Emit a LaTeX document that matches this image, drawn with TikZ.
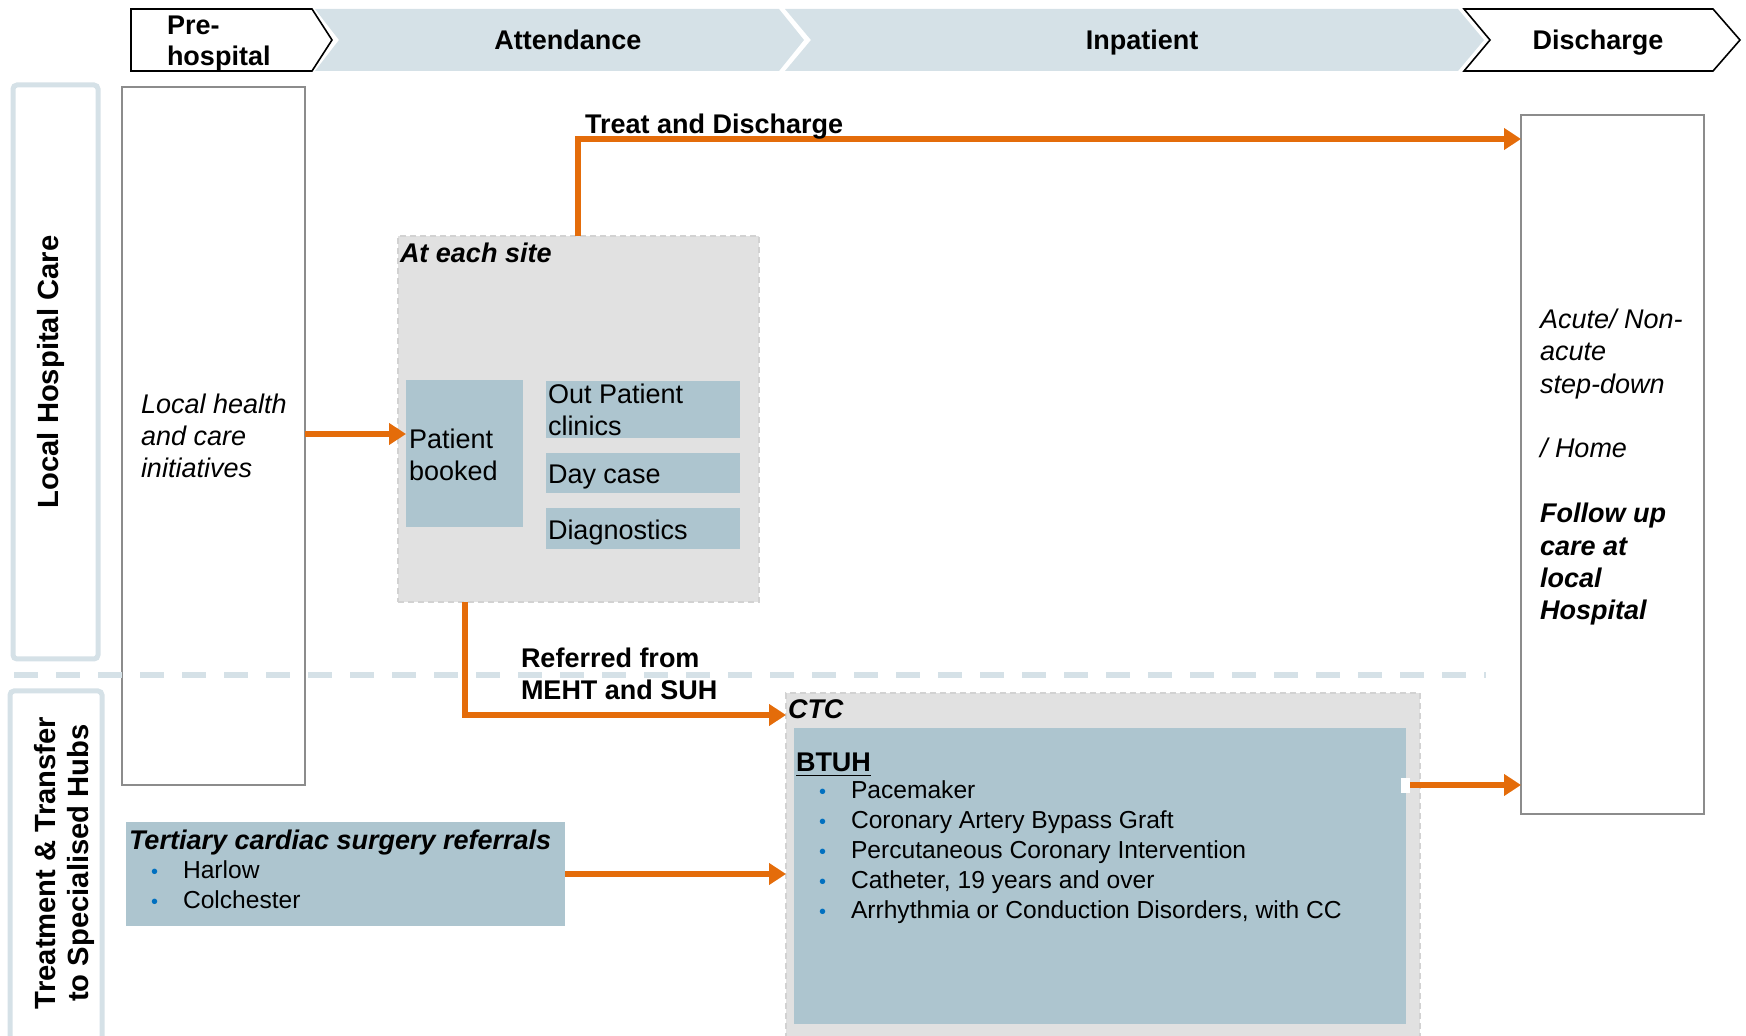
\documentclass[tikz,border=0pt]{standalone}
\usepackage{fontspec}
\setmainfont{Liberation Sans}
\usetikzlibrary{fit,arrows.meta,calc}

\definecolor{hdrfill}{HTML}{D5E1E7}
\definecolor{lanecol}{HTML}{D5E1E7}
\definecolor{boxfill}{HTML}{ADC5CF}
\definecolor{sitefill}{HTML}{E1E1E1}
\definecolor{sitedash}{HTML}{D2D2D2}
\definecolor{flow}{HTML}{E46C0A}
\definecolor{dotblue}{HTML}{0070C0}
\definecolor{colline}{HTML}{8C8C8C}

\newcommand\bodyfont{\fontsize{13.5}{16.2}\selectfont}
\newcommand\listfont{\fontsize{12.3}{15}\selectfont}
\newcommand\lanefont{\fontsize{14.6}{16.5}\selectfont\bfseries}
\newcommand\itemdot{\makebox[16pt][l]{\color{dotblue}\fontsize{10}{10}\selectfont\textbullet}}

% multi-line text nodes are anchored at the baseline of their last line
\tikzset{
  region/.style={fit={#1}, inner sep=0pt, outer sep=0pt},
  colbox/.style={draw=colline, line width=0.9pt, fill=white},
  lanebox/.style={draw=lanecol, line width=2.5pt, rounded corners=2pt},
  sitebox/.style={fill=sitefill, draw=sitedash, densely dashed, line width=0.8pt},
  tile/.style={fill=boxfill, draw=none},
  txt/.style={inner sep=0pt, outer sep=0pt, anchor=base west, font=\bodyfont, align=left},
  flowarrow/.style={draw=flow, line width=2.9pt, -{Triangle[length=8.5pt,width=10.5pt]}},
  hdrw/.style={draw=black, fill=white, line width=0.8pt},
  hdrb/.style={fill=hdrfill, draw=none},
  lanesep/.style={draw=lanecol, line width=3pt, dash pattern=on 12pt off 9pt},
}

\begin{document}
\begin{tikzpicture}[x=0.5pt,y=-0.5pt]
\useasboundingbox (0,0) rectangle (1746,1036);

% phase chevrons
\draw[hdrw] (131,9) -- (312,9) -- (332,40) -- (312,71) -- (131,71) -- cycle;
\fill[hdrb] (315,9) -- (779,9) -- (804,40) -- (779,71) -- (315,71) -- (339,40) -- cycle;
\fill[hdrb] (785,9) -- (1458,9) -- (1484,40) -- (1458,71) -- (785,71) -- (811,40) -- cycle;
\draw[hdrw] (1464,9) -- (1713,9) -- (1740,40) -- (1713,71) -- (1464,71) -- (1490,40) -- cycle;
\node[txt, font=\fontsize{13.5}{15.8}\selectfont\bfseries] (hPre) at (167,66) {Pre-\\hospital};
\node[txt, anchor=base, font=\bodyfont\bfseries] (hAtt) at (568,50) {Attendance};
\node[txt, anchor=base, font=\bodyfont\bfseries] (hInp) at (1142,50) {Inpatient};
\node[txt, anchor=base, font=\bodyfont\bfseries] (hDis) at (1598,50) {Discharge};

% swim-lane labels
\node[region={(13,85) (98,659)}, lanebox] (laneLocal) {};
\node[region={(10,691) (102,1045)}, lanebox] (laneHub) {};
\node[rotate=90, font=\lanefont, inner sep=0pt] (tLocal) at (51,372) {Local Hospital Care};
\node[rotate=90, font=\lanefont, inner sep=0pt, align=center] (tHub) at (64,863) {Treatment \& Transfer\\to Specialised Hubs};

% pre-hospital and discharge columns
\node[region={(122,87) (305,785)}, colbox] (pre) {};
\node[region={(1521,115) (1704,814)}, colbox] (dis) {};
\node[txt, font=\bodyfont\itshape] (tPre) at (141,478) {Local health\\and care\\initiatives};
\node[txt, font=\bodyfont\itshape] (tDis) at (1540,620)
  {Acute/ Non-\\acute\\step-down\\[16.2pt]/ Home\\[16.2pt]\textbf{Follow up}\\\textbf{care at}\\\textbf{local}\\\textbf{Hospital}};

% boundary between the two lanes
\draw[lanesep] (14,675) -- (1486,675);

% local site services
\node[region={(398,236) (759,602)}, sitebox] (site) {};
\node[txt, font=\bodyfont\bfseries\itshape] (tSite) at (400,263) {At each site};
\node[region={(406,380) (523,527)}, tile] (pb) {};
\node[txt] (tPb) at (409,481) {Patient\\booked};
\node[region={(546,381) (740,438)}, tile] (opc) {};
\node[txt] (tOpc) at (548,436) {Out Patient\\clinics};
\node[region={(546,453) (740,493)}, tile] (day) {};
\node[txt] (tDay) at (548,484) {Day case};
\node[region={(546,508) (740,549)}, tile] (diag) {};
\node[txt] (tDiag) at (548,540) {Diagnostics};

% specialised centre
\node[region={(786,693) (1420,1045)}, sitebox] (ctc) {};
\node[txt, font=\bodyfont\bfseries\itshape] (tCtc) at (788,719) {CTC};
\node[region={(794,728) (1406,1024)}, tile] (btuh) {};
\node[txt, font=\bodyfont\bfseries] (tBtuh) at (796,772) {\underline{BTUH}};
\node[txt, font=\listfont] (tBtuhList) at (819,919)
  {\itemdot Pacemaker\\\itemdot Coronary Artery Bypass Graft\\\itemdot Percutaneous Coronary Intervention\\\itemdot Catheter, 19 years and over\\\itemdot Arrhythmia or Conduction Disorders, with CC};

% tertiary referrals
\node[region={(126,822) (565,926)}, tile] (tert) {};
\node[txt, font=\bodyfont\bfseries\itshape] (tTert) at (129,849) {Tertiary cardiac surgery referrals};
\node[txt, font=\listfont] (tTertList) at (151,908) {\itemdot Harlow\\\itemdot Colchester};

% flows
\coordinate (yBooked) at (0,434);
\coordinate (bendTD) at (578,139);
\coordinate (bendRef) at (465,715);
\coordinate (yBack) at (0,785);
\draw[flowarrow] (pre.east |- yBooked) -- (pb.west |- yBooked);
\draw[flowarrow] (site.north -| bendTD) |- (dis.west |- bendTD);
\draw[flowarrow] (site.south -| bendRef) |- (ctc.west |- bendRef);
\draw[flowarrow] (tert.east) -- (tert.east -| ctc.west);
\fill[white] ($(btuh.east |- yBack)+(-5,-7)$) rectangle ($(btuh.east |- yBack)+(4,8)$);
\draw[flowarrow] ($(btuh.east |- yBack)+(4,0)$) -- (dis.west |- yBack);

\node[txt, font=\bodyfont\bfseries] (tTD) at (585,134) {Treat and Discharge};
\node[txt, font=\bodyfont\bfseries] (tRef) at (521,700) {Referred from\\MEHT and SUH};
\end{tikzpicture}
\end{document}
